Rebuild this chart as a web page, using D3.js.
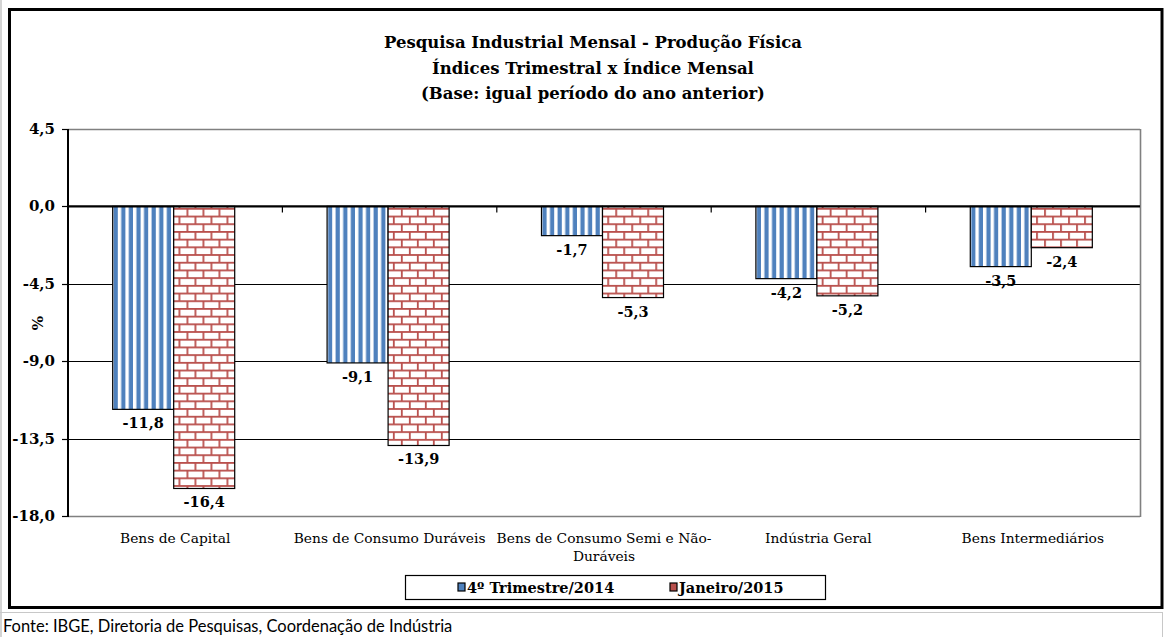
<!DOCTYPE html>
<html>
<head>
<meta charset="utf-8">
<script src="https://cdn.jsdelivr.net/npm/d3@7"></script>
<style>
  body { margin: 0; background: #fff; }
  svg { display: block; }
</style>
</head>
<body>
<div id="main"></div>
<script>

//=============== DATA ===================
var categories = ["Bens de Capital", "Bens de Consumo Duráveis", "Bens de Consumo Semi e Não-Duráveis", "Indústria Geral", "Bens Intermediários"];
var seriesNames = ["4º Trimestre/2014", "Janeiro/2015"];
var trimestre = [-11.8, -9.1, -1.7, -4.2, -3.5];
var janeiro = [-16.4, -13.9, -5.3, -5.2, -2.4];
var yTicks = [4.5, 0, -4.5, -9, -13.5, -18];
var titleLines = ["Pesquisa Industrial Mensal - Produção Física", "Índices Trimestral x Índice Mensal", "(Base: igual período do ano anterior)"];
var fonte = "Fonte: IBGE, Diretoria de Pesquisas, Coordenação de Indústria";

//=============== SETUP ===================
var width = 1171,
    height = 637,
    plot = {left: 68, right: 1140, top: 129, bottom: 516},
    serif = "'DejaVu Serif', 'Liberation Serif', serif",
    blue = "#4F81BD",
    red = "#B9504D";

var fmt = function(v){ return d3.format(".1f")(v).replace("−", "-").replace(".", ","); };

var svg = d3.select("#main").append("svg")
    .attr("width", width)
    .attr("height", height);

var defs = svg.append("defs");

// vertical stripes for the trimester series
var stripes = defs.append("pattern")
    .attr("id", "stripes")
    .attr("patternUnits", "userSpaceOnUse")
    .attr("width", 7.6)
    .attr("height", 10);
stripes.append("rect").attr("width", 7.6).attr("height", 10).attr("fill", "#fff");
stripes.append("rect").attr("x", 1.5).attr("width", 4.2).attr("height", 10).attr("fill", blue);

// brick pattern for the monthly series
var bw = 16, bh = 7.7;
var brick = defs.append("pattern")
    .attr("id", "brick")
    .attr("patternUnits", "userSpaceOnUse")
    .attr("width", bw)
    .attr("height", bh * 2);
brick.append("rect").attr("width", bw).attr("height", bh * 2).attr("fill", "#fff");
brick.append("rect").attr("y", 0).attr("width", bw).attr("height", 1.8).attr("fill", red);
brick.append("rect").attr("y", bh).attr("width", bw).attr("height", 1.8).attr("fill", red);
brick.append("rect").attr("x", 0).attr("y", 0).attr("width", 1.8).attr("height", bh).attr("fill", red);
brick.append("rect").attr("x", bw / 2).attr("y", bh).attr("width", 1.8).attr("height", bh).attr("fill", red);

var fills = ["url(#stripes)", "url(#brick)"];
var swatchFills = [blue, red];

//=============== FRAME ===================
// spreadsheet cell below the chart
svg.append("line").attr("x1", 1).attr("x2", 1).attr("y1", 0).attr("y2", height).attr("stroke", "#d4d4d4").attr("stroke-width", 2);
svg.append("line").attr("x1", 0).attr("x2", 1162).attr("y1", 612.5).attr("y2", 612.5).attr("stroke", "#c8c8c8");
svg.append("line").attr("x1", 1162.5).attr("x2", 1162.5).attr("y1", 612).attr("y2", height).attr("stroke", "#c8c8c8");

svg.append("rect")
    .attr("x", 9.5)
    .attr("y", 9.5)
    .attr("width", 1152.5)
    .attr("height", 598)
    .attr("fill", "#fff")
    .attr("stroke", "#000")
    .attr("stroke-width", 3);

svg.append("text")
    .attr("x", 3)
    .attr("y", 632)
    .attr("font-family", "Lato, 'Liberation Sans', sans-serif")
    .attr("font-size", 16.5)
    .attr("fill", "#000")
    .text(fonte);

//=============== TITLE ===================
svg.append("g").selectAll("text")
    .data(titleLines)
    .enter()
    .append("text")
    .attr("x", 593)
    .attr("y", function(d, i){ return 48 + i * 25.5; })
    .attr("text-anchor", "middle")
    .attr("font-family", serif)
    .attr("font-weight", "bold")
    .attr("font-size", 16.5)
    .text(function(d){ return d; });

//=============== SCALES ===================
var y = d3.scaleLinear()
    .domain([d3.min(yTicks), d3.max(yTicks)])
    .range([plot.bottom, plot.top]);

var x0 = d3.scaleBand()
    .domain(categories)
    .range([plot.left, plot.right]);

var x1 = d3.scaleBand()
    .domain(seriesNames)
    .range([0, x0.bandwidth()])
    .paddingOuter(0.757);

//=============== GRID ===================
var grid = svg.append("g");
grid.selectAll("line")
    .data(yTicks.filter(function(t){ return t !== 0; }))
    .enter()
    .append("line")
    .attr("x1", plot.left)
    .attr("x2", plot.right)
    .attr("y1", function(d){ return Math.round(y(d)) + 0.5; })
    .attr("y2", function(d){ return Math.round(y(d)) + 0.5; })
    .attr("stroke", function(d){ return (d === 4.5 || d === -18) ? "#808080" : "#000"; })
    .attr("stroke-width", function(d){ return (d === 4.5 || d === -18) ? 1.6 : 1; });

// plot area right edge
svg.append("line")
    .attr("x1", plot.right + 0.5).attr("x2", plot.right + 0.5)
    .attr("y1", plot.top).attr("y2", plot.bottom + 1)
    .attr("stroke", "#808080")
    .attr("stroke-width", 1.6);

//=============== BARS ===================
var rows = categories.map(function(c, i){
    return {cat: c, values: [
        {name: seriesNames[0], v: trimestre[i], k: 0},
        {name: seriesNames[1], v: janeiro[i], k: 1}
    ]};
});

var group = svg.append("g").selectAll("g")
    .data(rows)
    .enter()
    .append("g")
    .attr("transform", function(d){ return "translate(" + (x0(d.cat) - 1.5) + ",0)"; });

group.selectAll("rect")
    .data(function(d){ return d.values; })
    .enter()
    .append("rect")
    .attr("x", function(d){ return x1(d.name); })
    .attr("y", y(0))
    .attr("width", x1.bandwidth())
    .attr("height", function(d){ return y(d.v) - y(0); })
    .attr("fill", function(d){ return fills[d.k]; })
    .attr("stroke", "#000")
    .attr("stroke-width", 1.2);

group.selectAll("text")
    .data(function(d){ return d.values; })
    .enter()
    .append("text")
    .attr("x", function(d){ return x1(d.name) + x1.bandwidth() / 2; })
    .attr("y", function(d){ return y(d.v) + 19; })
    .attr("text-anchor", "middle")
    .attr("font-family", serif)
    .attr("font-weight", "bold")
    .attr("font-size", 14.5)
    .text(function(d){ return fmt(d.v); });

//=============== AXES ===================
var yAxis = svg.append("g");
yAxis.append("line")
    .attr("x1", plot.left).attr("x2", plot.left)
    .attr("y1", plot.top).attr("y2", plot.bottom + 1)
    .attr("stroke", "#000")
    .attr("stroke-width", 2);

yAxis.selectAll(".tick")
    .data(yTicks)
    .enter()
    .append("line")
    .attr("x1", plot.left - 6)
    .attr("x2", plot.left)
    .attr("y1", function(d){ return Math.round(y(d)) + 0.5; })
    .attr("y2", function(d){ return Math.round(y(d)) + 0.5; })
    .attr("stroke", "#000")
    .attr("stroke-width", 1.2);

yAxis.selectAll("text")
    .data(yTicks)
    .enter()
    .append("text")
    .attr("x", 55)
    .attr("y", function(d){ return y(d) + 5; })
    .attr("text-anchor", "end")
    .attr("font-family", serif)
    .attr("font-weight", "bold")
    .attr("font-size", 15)
    .text(function(d){ return fmt(d); });

svg.append("text")
    .attr("transform", "translate(43,323) rotate(-90)")
    .attr("text-anchor", "middle")
    .attr("font-family", serif)
    .attr("font-weight", "bold")
    .attr("font-size", 15)
    .text("%");

// category axis sits on the zero line
var xAxis = svg.append("g");
xAxis.append("line")
    .attr("x1", plot.left).attr("x2", plot.right)
    .attr("y1", y(0)).attr("y2", y(0))
    .attr("stroke", "#000")
    .attr("stroke-width", 2.2);

xAxis.selectAll("line.tick")
    .data(categories.slice(1))
    .enter()
    .append("line")
    .attr("class", "tick")
    .attr("x1", function(d){ return x0(d); })
    .attr("x2", function(d){ return x0(d); })
    .attr("y1", y(0))
    .attr("y2", y(0) + 6)
    .attr("stroke", "#000")
    .attr("stroke-width", 1.2);

var catText = svg.append("g").selectAll("text")
    .data(categories)
    .enter()
    .append("text")
    .attr("x", function(d){ return x0(d) + x0.bandwidth() / 2; })
    .attr("y", 543)
    .attr("text-anchor", "middle")
    .attr("font-family", serif)
    .attr("font-size", 13.8)
    .each(function(d){
        var el = d3.select(this),
            cx = +el.attr("x"),
            parts = d.split(/(?<=[-\s])/),
            lines = [],
            cur = "";
        parts.forEach(function(p){
            el.text(cur + p);
            if (cur && this.getComputedTextLength() > 225) {
                lines.push(cur);
                cur = p;
            } else {
                cur = cur + p;
            }
        }, this);
        lines.push(cur);
        el.text(null);
        lines.forEach(function(l, i){
            el.append("tspan").attr("x", cx).attr("dy", i ? 18 : 0).text(l.trim());
        });
    });

//=============== LEGEND ===================
var legend = svg.append("g");
legend.append("rect")
    .attr("x", 405.5)
    .attr("y", 575.5)
    .attr("width", 420)
    .attr("height", 24)
    .attr("fill", "#fff")
    .attr("stroke", "#000")
    .attr("stroke-width", 1.2);

var legX = [458, 670];
var item = legend.selectAll("g")
    .data(seriesNames)
    .enter()
    .append("g")
    .attr("transform", function(d, i){ return "translate(" + legX[i] + ",583)"; });

item.append("rect")
    .attr("width", 7)
    .attr("height", 8)
    .attr("fill", function(d, i){ return swatchFills[i]; })
    .attr("stroke", "#000")
    .attr("stroke-width", 1.2);

item.append("text")
    .attr("x", 9)
    .attr("y", 10)
    .attr("font-family", serif)
    .attr("font-weight", "bold")
    .attr("font-size", 14.5)
    .text(function(d){ return d; });

</script>
</body>
</html>
